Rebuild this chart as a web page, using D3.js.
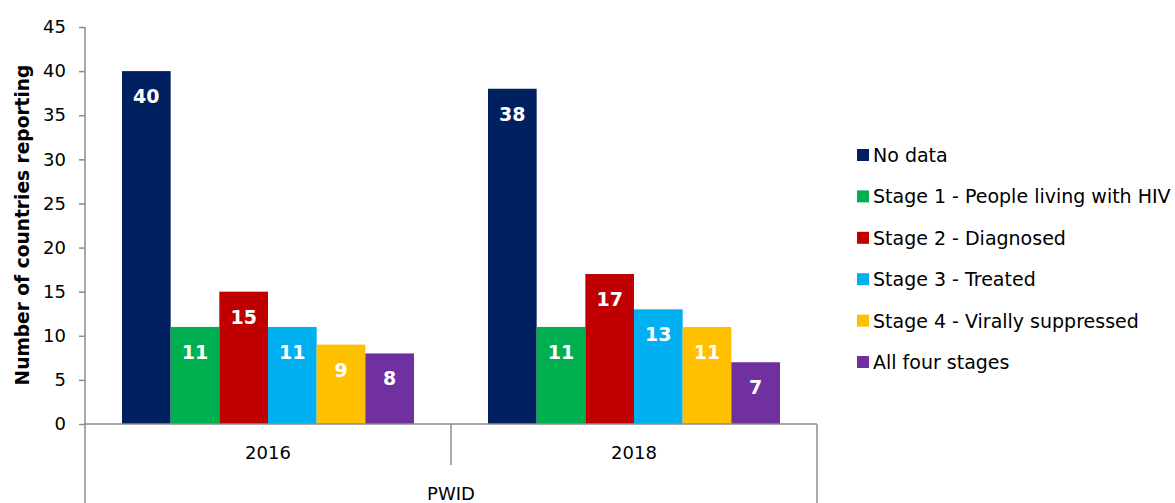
<!DOCTYPE html>
<html><head><meta charset="utf-8">
<script src="https://cdn.jsdelivr.net/npm/d3@7"></script>
<style>body{margin:0;background:#fff}svg{display:block}text{font-family:"DejaVu Sans",Verdana,sans-serif}</style>
</head><body>
<script>
const years = ["2016", "2018"];
const groupLabel = "PWID";
const seriesNames = ["No data", "Stage 1 - People living with HIV", "Stage 2 - Diagnosed", "Stage 3 - Treated", "Stage 4 - Virally suppressed", "All four stages"];
const values2016 = [40, 11, 15, 11, 9, 8];
const values2018 = [38, 11, 17, 13, 11, 7];
const colors = ["#002060", "#00B050", "#C00000", "#00B0F0", "#FFC000", "#7030A0"];
const yTicks = [0, 5, 10, 15, 20, 25, 30, 35, 40, 45];

const W = 1175, H = 503;
const svg = d3.select("body").append("svg").attr("width", W).attr("height", H);
const axisColor = "#8c8c8c";

const y = d3.scaleLinear().domain([0, 45]).range([424, 27]);
const x0 = d3.scaleBand().domain(years).range([85, 817]).paddingInner(0).paddingOuter(0);
const x1 = d3.scaleBand().domain(d3.range(seriesNames.length)).range([0, x0.bandwidth()]).paddingOuter(0.76).paddingInner(0);

const data = [values2016, values2018];

// y axis
const yAxis = d3.axisLeft(y).tickValues(yTicks).tickSize(6).tickPadding(13);
const ga = svg.append("g").attr("transform", "translate(85,0)").call(yAxis);
ga.select(".domain").remove();
ga.selectAll(".tick line").attr("stroke", axisColor).attr("stroke-width", 1.5);
ga.selectAll(".tick text").attr("font-size", 18).attr("fill", "#000").attr("font-family", "DejaVu Sans");
svg.append("line").attr("x1", 85).attr("x2", 85).attr("y1", y(45)).attr("y2", H).attr("stroke", axisColor).attr("stroke-width", 1.5);

// bars
years.forEach((yr, gi) => {
  const g = svg.append("g").attr("transform", `translate(${x0(yr)},0)`);
  data[gi].forEach((v, i) => {
    g.append("rect").attr("x", x1(i)).attr("width", x1.bandwidth())
      .attr("y", y(v)).attr("height", y(0) - y(v)).attr("fill", colors[i]);
    g.append("text").attr("x", x1(i) + x1.bandwidth() / 2).attr("y", y(v) + 32)
      .attr("text-anchor", "middle").attr("font-size", 19).attr("font-weight", "bold")
      .attr("fill", "#fff").text(v);
  });
});

// x axis
svg.append("line").attr("x1", 85).attr("x2", 817).attr("y1", 424).attr("y2", 424).attr("stroke", axisColor).attr("stroke-width", 1.5);
svg.append("line").attr("x1", 451).attr("x2", 451).attr("y1", 424).attr("y2", 465).attr("stroke", axisColor).attr("stroke-width", 1.5);
svg.append("line").attr("x1", 817).attr("x2", 817).attr("y1", 424).attr("y2", H).attr("stroke", axisColor).attr("stroke-width", 1.5);
years.forEach(yr => {
  svg.append("text").attr("x", x0(yr) + x0.bandwidth() / 2).attr("y", 459)
    .attr("text-anchor", "middle").attr("font-size", 18).attr("fill", "#000").text(yr);
});
svg.append("text").attr("x", 451).attr("y", 500).attr("text-anchor", "middle").attr("font-size", 18).attr("fill", "#000").text(groupLabel);

// y title
svg.append("text").attr("transform", "translate(29,225) rotate(-90)").attr("text-anchor", "middle")
  .attr("font-size", 18.6).attr("font-weight", "bold").attr("fill", "#000").text("Number of countries reporting");

// legend
seriesNames.forEach((n, i) => {
  const yy = 155 + i * 41.4;
  svg.append("rect").attr("x", 857).attr("y", yy - 6).attr("width", 12).attr("height", 12).attr("fill", colors[i]);
  svg.append("text").attr("x", 873).attr("y", yy + 7).attr("font-size", 19).attr("fill", "#000").text(n);
});
</script>
</body></html>
